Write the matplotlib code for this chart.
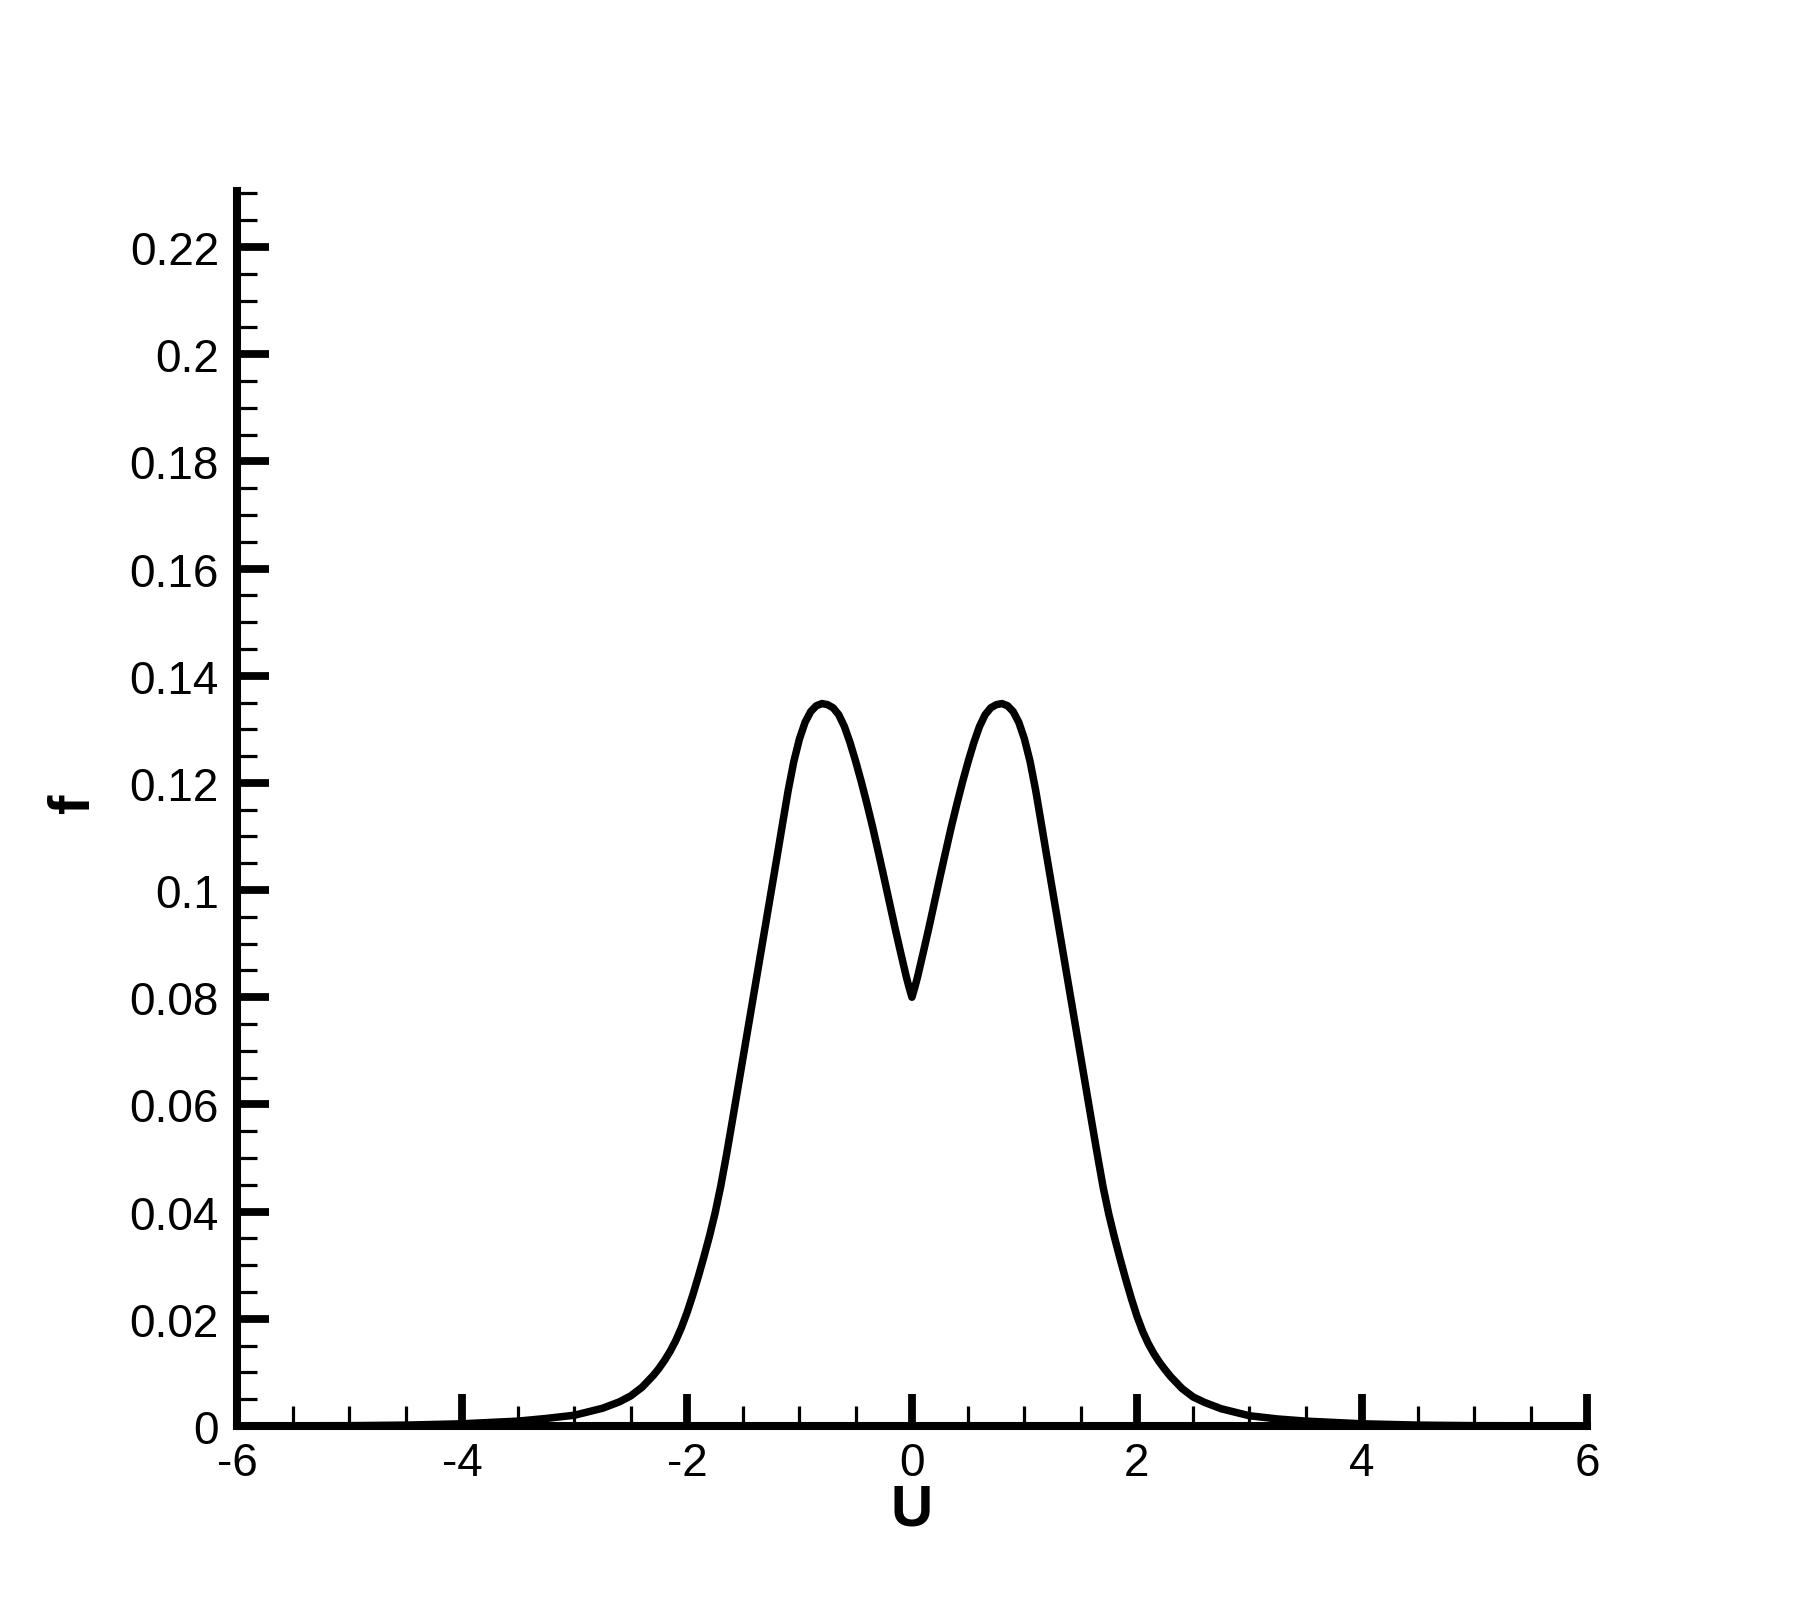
import matplotlib
matplotlib.use("Agg")
import matplotlib.pyplot as plt
from matplotlib.ticker import MultipleLocator, FuncFormatter

# Curve values (U, f)
u_vals = [-6.0, -5.0, -4.5, -4.0, -3.5, -3.25, -3.0, -2.75, -2.6, -2.5, -2.4, -2.3,
          -2.25, -2.2, -2.15, -2.1, -2.05, -2.0, -1.95, -1.9, -1.85, -1.8, -1.75,
          -1.7, -1.65, -1.6, -1.55, -1.5, -1.45, -1.4, -1.35, -1.3, -1.25, -1.2,
          -1.15, -1.1, -1.05, -1.0, -0.95, -0.9, -0.85, -0.8, -0.75, -0.7, -0.65,
          -0.6, -0.55, -0.5, -0.45, -0.4, -0.35, -0.3, -0.25, -0.2, -0.15, -0.1,
          -0.05, -0.025, 0.0,
          0.025, 0.05, 0.1, 0.15, 0.2, 0.25, 0.3, 0.35, 0.4, 0.45, 0.5, 0.55, 0.6,
          0.65, 0.7, 0.75, 0.8, 0.85, 0.9, 0.95, 1.0, 1.05, 1.1, 1.15, 1.2, 1.25,
          1.3, 1.35, 1.4, 1.45, 1.5, 1.55, 1.6, 1.65, 1.7, 1.75, 1.8, 1.85, 1.9,
          1.95, 2.0, 2.05, 2.1, 2.15, 2.2, 2.25, 2.3, 2.4, 2.5, 2.6, 2.75, 3.0,
          3.25, 3.5, 4.0, 4.5, 5.0, 6.0]
f_vals = [0.0, 0.00005, 0.00015, 0.0004, 0.0009, 0.0014, 0.0020, 0.0033, 0.0045,
          0.0056, 0.0072, 0.0094, 0.0107, 0.0122, 0.0139, 0.0159, 0.0183, 0.0211,
          0.0243, 0.0278, 0.0315, 0.0354, 0.0397, 0.0447, 0.0504, 0.0565, 0.0627,
          0.0689, 0.0751, 0.0813, 0.0875, 0.0937, 0.0999, 0.1061, 0.1124, 0.1186,
          0.1240, 0.1282, 0.1313, 0.1333, 0.1344, 0.1348, 0.1346, 0.1340, 0.1327,
          0.1305, 0.1275, 0.1240, 0.1202, 0.1161, 0.1118, 0.1072, 0.1025, 0.0977,
          0.0929, 0.0883, 0.0838, 0.0818, 0.0800,
          0.0818, 0.0838, 0.0883, 0.0929, 0.0977, 0.1025, 0.1072, 0.1118, 0.1161,
          0.1202, 0.1240, 0.1275, 0.1305, 0.1327, 0.1340, 0.1346, 0.1348, 0.1344,
          0.1333, 0.1313, 0.1282, 0.1240, 0.1186, 0.1124, 0.1061, 0.0999, 0.0937,
          0.0875, 0.0813, 0.0751, 0.0689, 0.0627, 0.0565, 0.0504, 0.0445, 0.0395,
          0.0352, 0.0312, 0.0274, 0.0238, 0.0205, 0.0177, 0.0154, 0.0135, 0.0119,
          0.0105, 0.0092, 0.0070, 0.0054, 0.0044, 0.0032, 0.0019, 0.0013, 0.0009,
          0.0004, 0.00015, 0.00005, 0.0]

x_ticks = [-6, -4, -2, 0, 2, 4, 6]
y_ticks = [0, 0.02, 0.04, 0.06, 0.08, 0.1, 0.12, 0.14, 0.16, 0.18, 0.2, 0.22]

plt.rcParams['font.family'] = ['Liberation Sans', 'DejaVu Sans']

fig = plt.figure(figsize=(18.06, 16.06), dpi=100)
ax = fig.add_axes([0.1312, 0.1115, 0.7475, 0.7691])

ax.plot(u_vals, f_vals, color='black', lw=5.4, solid_joinstyle='round',
        solid_capstyle='round')

ax.set_xlim(-6, 6)
ax.set_ylim(0, 0.2305)

for s in ['top', 'right']:
    ax.spines[s].set_visible(False)
for s in ['left', 'bottom']:
    ax.spines[s].set_linewidth(5.8)
    ax.spines[s].set_capstyle('projecting')

ax.set_xticks(x_ticks)
ax.set_yticks(y_ticks)
ax.xaxis.set_minor_locator(MultipleLocator(0.5))
ax.yaxis.set_minor_locator(MultipleLocator(0.005))

def fmt(v, pos):
    s = ('%.2f' % v).rstrip('0').rstrip('.')
    return s if s not in ('-0',) else '0'
ax.yaxis.set_major_formatter(FuncFormatter(fmt))
ax.xaxis.set_major_formatter(FuncFormatter(lambda v, p: '%d' % v))

ax.tick_params(which='major', direction='in', length=23, width=5.6,
               labelsize=33, pad=11)
ax.tick_params(which='minor', direction='in', length=14.5, width=2.3)
ax.tick_params(axis='y', which='major', pad=13)

ax.set_xlabel('U', fontsize=42, fontweight='bold', va='center', ha='center')
ax.set_ylabel('f', fontsize=42, fontweight='bold', va='center', ha='center')
ax.xaxis.set_label_coords(0.5, -0.0675)
ax.yaxis.set_label_coords(-0.1207, 0.505)

fig.savefig('out.png', dpi=100)
